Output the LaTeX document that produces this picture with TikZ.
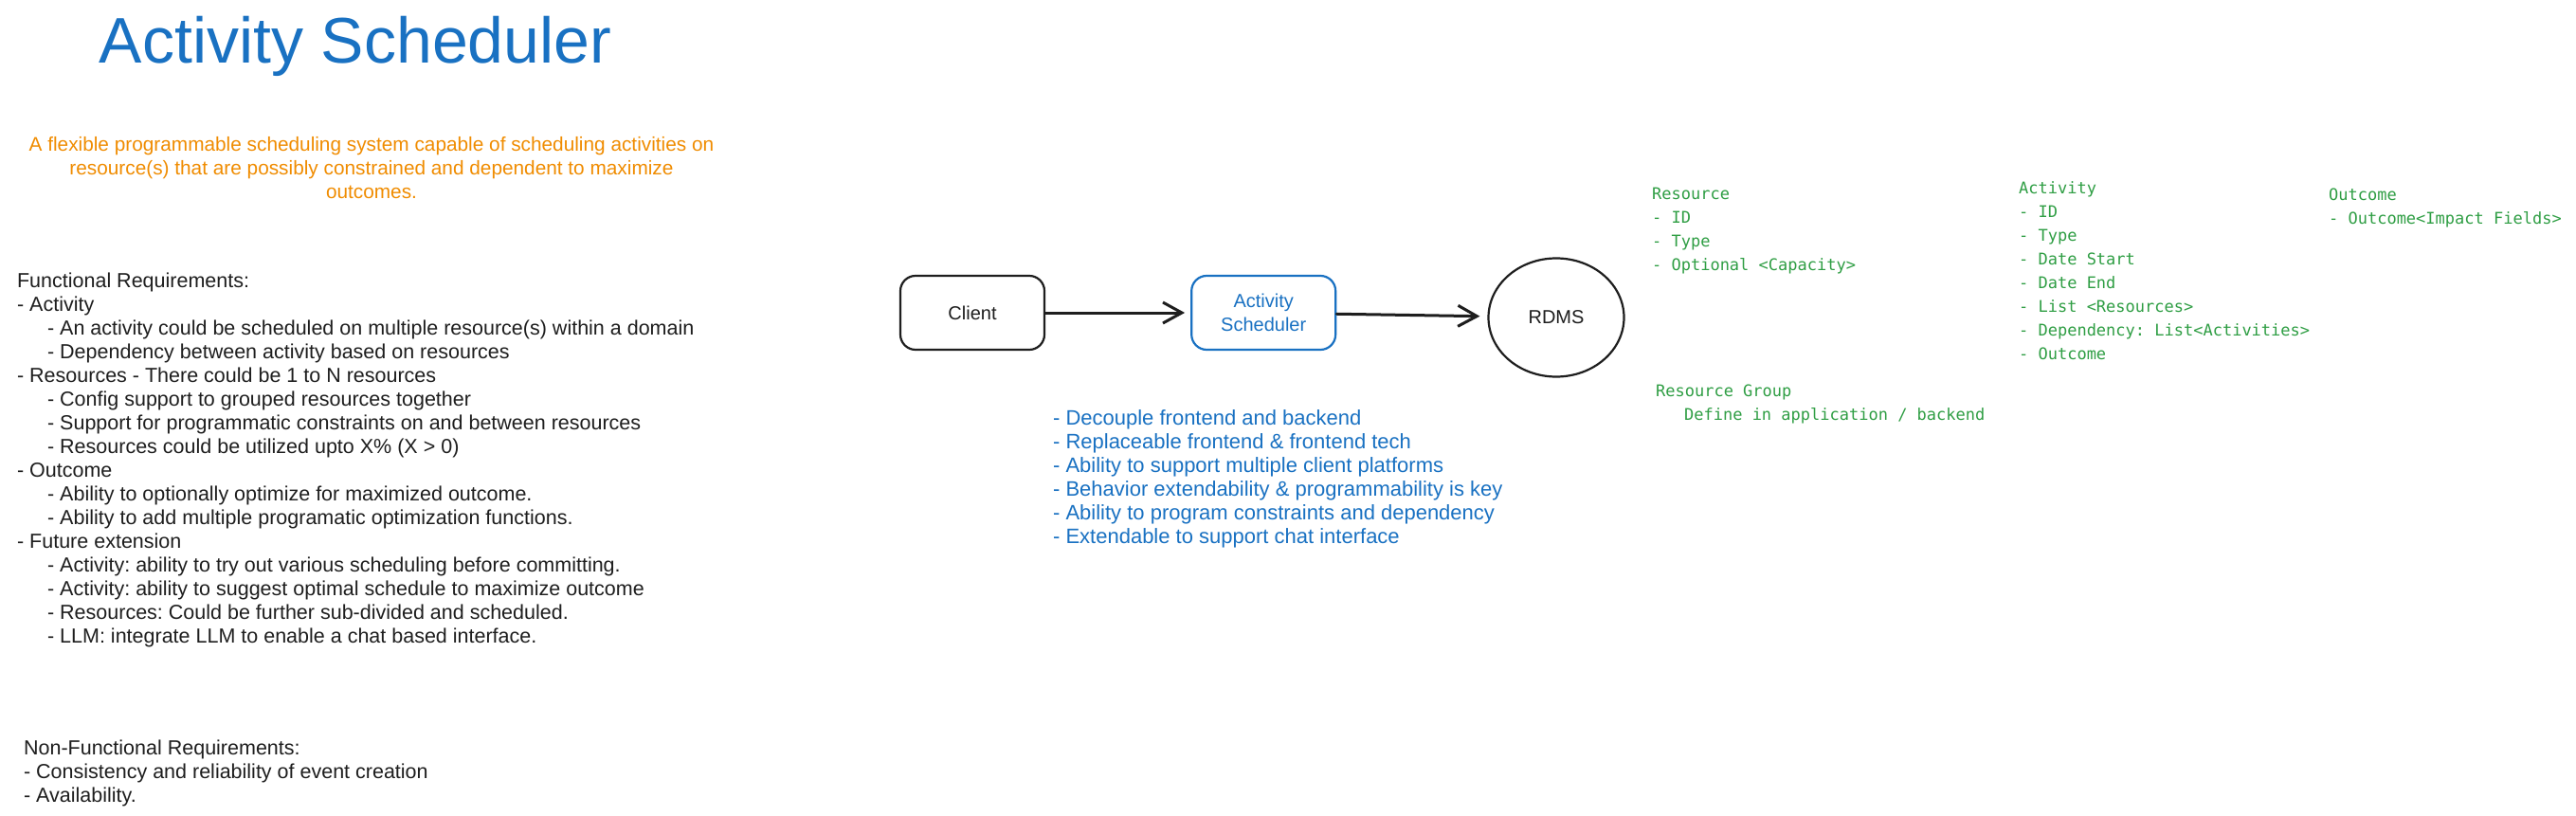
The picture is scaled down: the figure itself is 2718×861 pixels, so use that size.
\documentclass[tikz,border=0pt]{standalone}
\usepackage{fontspec}
\setmainfont{Liberation Sans}
\newfontfamily\fieldfont{DejaVu Sans Mono}
\usepackage{xcolor}
\usetikzlibrary{arrows.meta, positioning, shapes.geometric}
\frenchspacing
\definecolor{ink}{HTML}{1E1E1E}
\definecolor{skyblue}{HTML}{1971C2}
\definecolor{amber}{HTML}{F08C00}
\definecolor{leaf}{HTML}{2F9E44}
\newcommand{\indt}{\hspace*{32pt}}
\tikzset{%
  every path/.style={line width=2.2pt},
    edge/.style={%
        ->,
        >={Straight Barb[length=20pt, width=22pt, line width=3pt]},
        line width=3pt,
        line cap=round,
        draw=ink,
    },
    block/.style={%
        rectangle,
        draw=ink,
        minimum width=152pt,
        minimum height=78pt,
        rounded corners=16pt,
        text=ink,
        font=\fontsize{20}{25}\selectfont,
        align=center,
    },
    service/.style={%
        block,
        draw=skyblue,
        text=skyblue,
    },
    store/.style={%
        ellipse,
        draw=ink,
        minimum width=143pt,
        minimum height=125pt,
        text=ink,
        font=\fontsize{20}{25}\selectfont,
    },
    note/.style={%
        anchor=north west,
        inner sep=0pt,
        align=left,
        text=ink,
        font=\fontsize{21.5}{25}\selectfont,
    },
    field/.style={%
        note,
        text=leaf,
        font=\fieldfont\fontsize{17}{25}\selectfont,
    },
}

\begin{document}
\begin{tikzpicture}[x=1pt, y=-1pt]
	\path[use as bounding box, fill=white] (0,0) rectangle (2718,861);

	\coordinate (left_side) at (1026, 330);
	\coordinate (right_side) at (1642, 335);

	% heading
	\node [anchor=base, inner sep=0pt, text=skyblue, font=\fontsize{68}{80}\selectfont] at (375, 67) (title) {Activity Scheduler};
	\node [note, anchor=north, align=center, text=amber, font=\fontsize{20.8}{25}\selectfont] at (392, 140.5) (summary) {\strut A flexible programmable scheduling system capable of scheduling activities on\\ resource(s) that are possibly constrained and dependent to maximize\\ outcomes.};

	% requirements
	\node [note] at (17, 284.5) (func_req) {\strut Functional Requirements:\\
		- Activity\\
		\indt - An activity could be scheduled on multiple resource(s) within a domain\\
		\indt - Dependency between activity based on resources\\
		- Resources - There could be 1 to N resources\\
		\indt - Config support to grouped resources together\\
		\indt - Support for programmatic constraints on and between resources\\
		\indt - Resources could be utilized upto X\% (X > 0)\\
		- Outcome\\
		\indt - Ability to optionally optimize for maximized outcome.\\
		\indt - Ability to add multiple programatic optimization functions.\\
		- Future extension\\
		\indt - Activity: ability to try out various scheduling before committing.\\
		\indt - Activity: ability to suggest optimal schedule to maximize outcome\\
		\indt - Resources: Could be further sub-divided and scheduled.\\
		\indt - LLM: integrate LLM to enable a chat based interface.};
	\node [note] at (24, 777.5) (nonfunc_req) {\strut Non-Functional Requirements:\\
		- Consistency and reliability of event creation\\
		- Availability.};

	% flow
	\node [block] at (left_side) (client) {Client};
	\node [service, right=153pt of client] (scheduler) {Activity\\ Scheduler};
	\node [store] at (right_side) (rdms) {RDMS};

	\node [note, text=skyblue, font=\fontsize{22}{25}\selectfont] at (1110, 429.5) (goals) {\strut - Decouple frontend and backend\\
		- Replaceable frontend \& frontend tech\\
		- Ability to support multiple client platforms\\
		- Behavior extendability \& programmability is key\\
		- Ability to program constraints and dependency\\
		- Extendable to support chat interface};

	% data model
	\node [field] at (1742, 191.5) (resource) {\strut Resource\\ - ID\\ - Type\\ - Optional <Capacity>};
	\node [field] at (1746, 399.5) (res_group) {\strut Resource Group\\ \hspace*{30pt}Define in application / backend};
	\node [field] at (2129, 185.5) (activity) {\strut Activity\\ - ID\\ - Type\\ - Date Start\\ - Date End\\ - List <Resources>\\ - Dependency: List<Activities>\\ - Outcome};
	\node [field] at (2456, 192.5) (outcome) {\strut Outcome\\ - Outcome<Impact Fields>};

	\draw[edge, shorten >=6pt] (client) -- (scheduler);
	\draw[edge, shorten >=8pt] (scheduler) -- (rdms);
\end{tikzpicture}
\end{document}
